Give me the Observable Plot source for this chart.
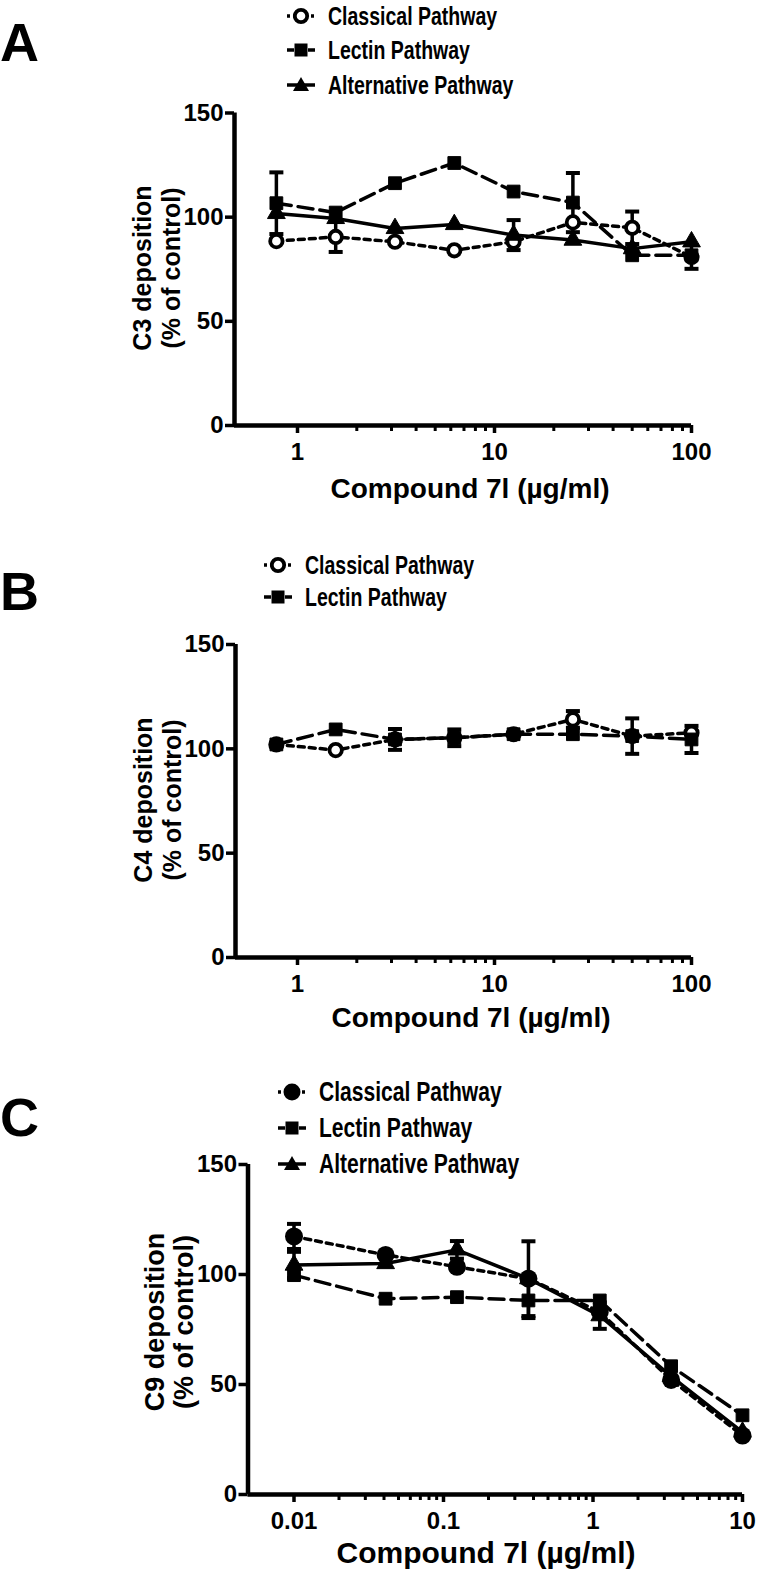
<!DOCTYPE html>
<html><head><meta charset="utf-8">
<script src="https://cdn.jsdelivr.net/npm/d3@7"></script>
<script src="https://cdn.jsdelivr.net/npm/@observablehq/plot@0.6"></script>
<style>
html,body{margin:0;padding:0;background:#fff;}
#fig{position:relative;width:758px;height:1575px;overflow:hidden;font-family:"Liberation Sans",Arial,sans-serif;font-weight:bold;color:#000;}
.abs{position:absolute;white-space:nowrap;}
.letter{font-size:54px;line-height:1;}
.xt{transform:translateX(-50%);line-height:1;}
.yt{font-size:25px;line-height:29px;text-align:center;transform:translate(-50%,-50%) rotate(-90deg);}
.leg{line-height:1;display:flex;align-items:center;height:28px;transform:translateY(-50%);}
.leg svg{margin-right:13px;}
.leg span{display:inline-block;transform-origin:0 50%;}
svg.plot{position:absolute;left:0;overflow:visible;}
</style></head><body><div id="fig"></div>
<script>
// ---------- DATA ----------
const seriesNames = ["Classical Pathway", "Lectin Pathway", "Alternative Pathway"];
const concAB = [0.78125, 1.5625, 3.125, 6.25, 12.5, 25, 50, 100];
const concC = [0.01, 0.041, 0.123, 0.37, 1.11, 3.33, 10];

// Panel A: C3 deposition (% of control)
const aClassical = [88.5, 90.5, 88.2, 84.1, 88.2, 97.5, 94.9, 80.9];
const aClassicalErr = [0, 7.2, 0, 0, 0, 0, 7.8, 5.7];
const aLectin = [106.7, 102.2, 116.3, 126, 112.3, 107, 81.7, 81.7];
const aLectinErr = [14.8, 0, 0, 0, 0, 14.2, 0, 0];
const aAlt = [101.8, 99.4, 94.6, 96.5, 91.4, 89, 84.9, 88.2];
const aAltErr = [0, 0, 0, 0, 7.2, 0, 0, 0];

// Panel B: C4 deposition (% of control)
const bClassical = [102.1, 99.4, 104.5, 105.3, 107, 114.1, 106.1, 107.7];
const bClassicalErr = [0, 0, 0, 0, 0, 4, 8.5, 0];
const bLectin = [102.1, 109.3, 104.5, 105.3, 107, 107, 106.1, 104.5];
const bLectinErr = [0, 0, 5, 4, 0, 0, 0, 6.5];

// Panel C: C9 deposition (% of control)
const cClassical = [117.3, 108.9, 103.5, 98.1, 83, 52.1, 26.8];
const cClassicalErr = [5.7, 0, 0, 17, 0, 0, 0];
const cLectin = [99.7, 89, 89.7, 88.2, 88.2, 58.3, 36];
const cLectinErr = [0, 0, 0, 8, 0, 0, 0];
const cAlt = [104.3, 105, 111.2, 98.1, 81.3, 53.7, 28.4];
const cAltErr = [6, 0, 4, 0, 6, 0, 0];

const yTicks = [0, 50, 100, 150];
const xTicksAB = [1, 10, 100];
const xTicksC = [0.01, 0.1, 1, 10];
const xLabel = "Compound 7l (\u00b5g/ml)";
const yLabelsA = ["C3 deposition", "(% of control)"];
const yLabelsB = ["C4 deposition", "(% of control)"];
const yLabelsC = ["C9 deposition", "(% of control)"];

// ---------- STYLES ----------
const styles = {
  "Classical Pathway": {dash: "6,5", symbol: "circle", r: 6.2, fill: "white", stroke: "black", sw: 3.8},
  "Lectin Pathway": {dash: "15,7", symbol: "square", r: 7.2, fill: "black", stroke: "black", sw: 1},
  "Alternative Pathway": {dash: null, symbol: "triangle", r: 6.6, fill: "black", stroke: "black", sw: 1}
};
const capSymbol = {draw(ctx) { ctx.moveTo(-7, 0); ctx.lineTo(7, 0); }};

const fig = document.getElementById("fig");
function el(cls, html, css) {
  const d = document.createElement("div");
  d.className = "abs " + cls;
  d.innerHTML = html;
  Object.assign(d.style, css);
  fig.appendChild(d);
  return d;
}

function minorTicks(lo, hi) {
  const out = [];
  for (let dec = lo; dec < hi; dec *= 10) for (let k = 2; k <= 9; k++) out.push(dec * k);
  return out;
}

function panel(cfg) {
  const W = 758;
  const {conc, series, box, svgTop, svgHeight, xTicks, filledClassical} = cfg;
  const decadePx = box.firstMajorPx2 - box.firstMajorPx;
  const xmin = xTicks[0] * Math.pow(10, -(box.firstMajorPx - box.left) / decadePx);
  const xmax = xTicks[xTicks.length - 1];
  const rightPx = box.firstMajorPx + decadePx * (xTicks.length - 1);
  const marks = [
    Plot.ruleY([0], {x1: xmin, x2: xmax, stroke: "black", strokeWidth: 4.5}),
    Plot.ruleX([xmin], {y1: 0, y2: 150, stroke: "black", strokeWidth: 4.5}),
    Plot.axisY({ticks: yTicks, tickSize: 9, tickPadding: 2, fontSize: 24, fontWeight: "bold", strokeWidth: 3.5, label: null}),
    Plot.axisX({ticks: xTicks, tickSize: 8, tickPadding: 9, fontSize: 24, fontWeight: "bold", strokeWidth: 3.5, tickFormat: d => String(d), label: null}),
    Plot.axisX({ticks: minorTicks(xTicks[0], xmax), tickSize: 6, strokeWidth: 3, tickFormat: () => "", label: null})
  ];
  const tables = series.map(s => ({
    name: s.name,
    rows: conc.map((c, i) => ({x: c, y: s.values[i], e: s.err[i]}))
  }));
  for (const t of tables) {
    const st = styles[t.name];
    marks.push(Plot.line(t.rows, {x: "x", y: "y", stroke: "black", strokeWidth: 3.5, strokeDasharray: st.dash}));
  }
  for (const t of tables) {
    const er = t.rows.filter(d => d.e > 0);
    marks.push(Plot.ruleX(er, {x: "x", y1: d => d.y - d.e, y2: d => d.y + d.e, stroke: "black", strokeWidth: 3.5}));
    marks.push(Plot.dot(er, {x: "x", y: d => d.y + d.e, symbol: capSymbol, fill: "none", stroke: "black", strokeWidth: 4}));
    marks.push(Plot.dot(er, {x: "x", y: d => d.y - d.e, symbol: capSymbol, fill: "none", stroke: "black", strokeWidth: 4}));
  }
  for (const t of tables) {
    const st = styles[t.name];
    if (t.name === "Classical Pathway" && filledClassical) {
      marks.push(Plot.dot(t.rows, {x: "x", y: "y", symbol: "circle", r: 9, fill: "black", stroke: "none"}));
    } else {
      marks.push(Plot.dot(t.rows, {x: "x", y: "y", symbol: st.symbol, r: st.r, fill: st.fill, stroke: st.stroke, strokeWidth: st.sw}));
    }
  }
  const p = Plot.plot({
    width: W, height: svgHeight,
    marginLeft: box.left, marginRight: W - rightPx,
    marginTop: box.top - svgTop, marginBottom: svgTop + svgHeight - box.bottom,
    x: {type: "log", domain: [xmin, xmax]},
    y: {domain: [0, 150]},
    style: {fontFamily: "'Liberation Sans', Arial, sans-serif", fontWeight: "bold", color: "black", background: "transparent", overflow: "visible"},
    marks
  });
  p.classList.add("plot");
  p.style.top = svgTop + "px";
  fig.appendChild(p);
}

function legend(names, x, ys, filledClassical, size, squeeze) {
  names.forEach((n, i) => {
    const st = styles[n];
    let sym;
    if (st.symbol === "circle") sym = filledClassical
      ? `<circle cx="14" cy="12" r="8.5" fill="black"/>`
      : `<circle cx="14" cy="12" r="6.2" fill="white" stroke="black" stroke-width="3.8"/>`;
    else if (st.symbol === "square") sym = `<rect x="7.5" y="5.5" width="13" height="13" fill="black"/>`;
    else sym = `<path d="M14,4 L22,18 L6,18 Z" fill="black"/>`;
    const line = `<line x1="0" y1="12" x2="28" y2="12" stroke="black" stroke-width="3.5" ${st.dash ? `stroke-dasharray="${st.dash === "6,5" ? "3,3" : "7,14"}"` : ""}/>`;
    el("leg", `<svg width="28" height="24" viewBox="0 0 28 24">${line}${sym}</svg><span style="transform:scaleX(${squeeze})">${n}</span>`,
      {left: x + "px", top: ys[i] + "px", fontSize: size + "px"});
  });
}

function yTitle(lines, cx, cy, size) {
  el("yt", lines.join("<br>"), {left: cx + "px", top: cy + "px", fontSize: size + "px"});
}
function xTitle(cx, top, size) {
  el("xt", xLabel, {left: cx + "px", top: top + "px", fontSize: size + "px"});
}

// ----- Panel A -----
el("letter", "A", {left: "0px", top: "15px"});
legend(seriesNames, 287, [16, 50, 85], false, 26, 0.75);
panel({
  conc: concAB, xTicks: xTicksAB,
  series: [
    {name: "Classical Pathway", values: aClassical, err: aClassicalErr},
    {name: "Lectin Pathway", values: aLectin, err: aLectinErr},
    {name: "Alternative Pathway", values: aAlt, err: aAltErr}
  ],
  box: {left: 234, top: 112.5, bottom: 425, firstMajorPx: 297, firstMajorPx2: 494},
  svgTop: 0, svgHeight: 480
});
yTitle(yLabelsA, 157, 268, 25);
xTitle(470, 475, 28);

// ----- Panel B -----
el("letter", "B", {left: "0px", top: "564px"});
legend(seriesNames.slice(0, 2), 264, [565, 597], false, 26, 0.75);
panel({
  conc: concAB, xTicks: xTicksAB,
  series: [
    {name: "Classical Pathway", values: bClassical, err: bClassicalErr},
    {name: "Lectin Pathway", values: bLectin, err: bLectinErr}
  ],
  box: {left: 235, top: 644, bottom: 957, firstMajorPx: 297, firstMajorPx2: 494},
  svgTop: 600, svgHeight: 410
});
yTitle(yLabelsB, 158, 800, 25);
xTitle(471, 1004, 28);

// ----- Panel C -----
el("letter", "C", {left: "0px", top: "1090px"});
legend(seriesNames, 278, [1092, 1128, 1164], true, 27, 0.78);
panel({
  conc: concC, xTicks: xTicksC, filledClassical: true,
  series: [
    {name: "Classical Pathway", values: cClassical, err: cClassicalErr},
    {name: "Lectin Pathway", values: cLectin, err: cLectinErr},
    {name: "Alternative Pathway", values: cAlt, err: cAltErr}
  ],
  box: {left: 247.5, top: 1164, bottom: 1494, firstMajorPx: 293.5, firstMajorPx2: 443},
  svgTop: 1120, svgHeight: 430
});
yTitle(yLabelsC, 170, 1322, 27);
xTitle(486, 1538, 30);
</script></body></html>
